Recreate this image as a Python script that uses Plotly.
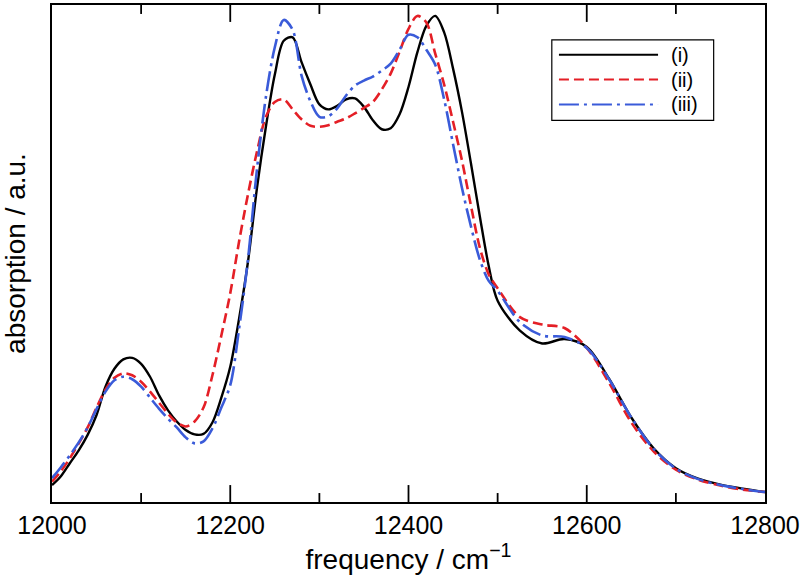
import plotly.graph_objects as go

# ---- data ----
freq = [12000, 12010, 12020, 12030, 12040, 12050, 12060, 12070, 12080, 12090,
        12100, 12110, 12120, 12130, 12140, 12150, 12160, 12170, 12180, 12190,
        12200, 12210, 12220, 12230, 12240, 12250, 12260, 12270, 12280, 12290,
        12300, 12310, 12320, 12330, 12340, 12350, 12360, 12370, 12380, 12390,
        12400, 12410, 12420, 12430, 12440, 12450, 12460, 12470, 12480, 12490,
        12500, 12525, 12550, 12575, 12600, 12625, 12650, 12675, 12700, 12725,
        12750, 12775, 12800]

abs_i = [0.034, 0.052, 0.078, 0.104, 0.135, 0.175, 0.232, 0.268, 0.287, 0.290,
         0.278, 0.252, 0.215, 0.185, 0.162, 0.145, 0.136, 0.137, 0.160, 0.210,
         0.272, 0.370, 0.485, 0.632, 0.755, 0.860, 0.928, 0.935, 0.885, 0.840,
         0.800, 0.790, 0.797, 0.810, 0.812, 0.795, 0.768, 0.750, 0.752, 0.780,
         0.835, 0.905, 0.958, 0.978, 0.945, 0.872, 0.785, 0.682, 0.575, 0.475,
         0.405, 0.345, 0.319, 0.328, 0.312, 0.248, 0.170, 0.108, 0.068, 0.047,
         0.035, 0.027, 0.020]

abs_ii = [0.041, 0.062, 0.088, 0.118, 0.150, 0.190, 0.226, 0.250, 0.259, 0.255,
          0.242, 0.222, 0.200, 0.178, 0.160, 0.152, 0.162, 0.190, 0.255, 0.335,
          0.420, 0.525, 0.620, 0.705, 0.775, 0.805, 0.810, 0.790, 0.770, 0.757,
          0.755, 0.758, 0.765, 0.772, 0.782, 0.793, 0.805, 0.830, 0.862, 0.906,
          0.952, 0.978, 0.965, 0.902, 0.840, 0.765, 0.687, 0.597, 0.512, 0.458,
          0.430, 0.372, 0.357, 0.350, 0.310, 0.240, 0.160, 0.102, 0.065, 0.045,
          0.033, 0.025, 0.020]

abs_iii = [0.048, 0.070, 0.094, 0.120, 0.150, 0.187, 0.222, 0.245, 0.252, 0.247,
           0.232, 0.210, 0.188, 0.168, 0.150, 0.130, 0.118, 0.122, 0.148, 0.190,
           0.235, 0.350, 0.490, 0.670, 0.815, 0.915, 0.970, 0.950, 0.858, 0.806,
           0.775, 0.776, 0.792, 0.818, 0.838, 0.848, 0.856, 0.868, 0.882, 0.910,
           0.940, 0.935, 0.910, 0.880, 0.810, 0.720, 0.632, 0.555, 0.488, 0.445,
           0.425, 0.362, 0.335, 0.332, 0.310, 0.247, 0.170, 0.107, 0.067, 0.046,
           0.034, 0.026, 0.020]

x_range = [12000, 12800]
major_ticks = [12000, 12200, 12400, 12600, 12800]
major_labels = ["12000", "12200", "12400", "12600", "12800"]
minor_ticks = [12100, 12300, 12500, 12700]
series_names = ["(i)", "(ii)", "(iii)"]

RED = "#e41f26"
BLUE = "#3a5bd9"
FONT = "Liberation Sans, Arial, Helvetica, sans-serif"
DASH_II = "10px,5px"
DASH_III = "20px,5px,3px,5px"

PLOT_H = 577 - 3 - 75          # plot-area height in px, to turn tick lengths into paper units
MAJOR_LEN = 17 / PLOT_H
MINOR_LEN = 9 / PLOT_H

fig = go.Figure()
fig.add_trace(go.Scatter(x=freq, y=abs_i, mode="lines", name=series_names[0],
                         line=dict(color="black", width=2.4, shape="spline", smoothing=0.9)))
fig.add_trace(go.Scatter(x=freq, y=abs_ii, mode="lines", name=series_names[1],
                         line=dict(color=RED, width=2.6, dash=DASH_II, shape="spline", smoothing=0.9)))
fig.add_trace(go.Scatter(x=freq, y=abs_iii, mode="lines", name=series_names[2],
                         line=dict(color=BLUE, width=2.6, dash=DASH_III, shape="spline", smoothing=0.9)))

shapes = []
# inward tick marks on bottom and top frame edges (x in data units, y in paper units)
for vals, ln in ((major_ticks[1:-1], MAJOR_LEN), (minor_ticks, MINOR_LEN)):
    for t in vals:
        shapes.append(dict(type="line", xref="x", yref="paper", x0=t, x1=t, y0=0, y1=ln,
                           line=dict(color="black", width=1.8), layer="above"))
        shapes.append(dict(type="line", xref="x", yref="paper", x0=t, x1=t, y0=1, y1=1 - ln,
                           line=dict(color="black", width=1.8), layer="above"))

# manual legend (box + sample lines + labels), paper coordinates
shapes.append(dict(type="rect", xref="paper", yref="paper", x0=0.701, x1=0.928, y0=0.768, y1=0.930,
                   line=dict(color="black", width=1.2), fillcolor="white", layer="above"))
leg_y = [0.900, 0.850, 0.800]
leg_style = [("black", "solid"), (RED, DASH_II), (BLUE, DASH_III)]
annotations = []
for yy, (c, d), nm in zip(leg_y, leg_style, series_names):
    shapes.append(dict(type="line", xref="paper", yref="paper", x0=0.711, x1=0.850, y0=yy, y1=yy,
                       line=dict(color=c, width=2, dash=d), layer="above"))
    annotations.append(dict(xref="paper", yref="paper", x=0.866, y=yy, text=nm, showarrow=False,
                            xanchor="left", yanchor="middle", font=dict(size=20, color="black", family=FONT)))

fig.update_layout(
    width=805, height=577,
    margin=dict(l=52, r=40, t=3, b=75),
    paper_bgcolor="white", plot_bgcolor="white",
    showlegend=False,
    font=dict(family=FONT, color="black"),
    shapes=shapes, annotations=annotations,
    xaxis=dict(
        range=x_range, tickmode="array", tickvals=major_ticks, ticktext=major_labels,
        ticks="", showline=True, linecolor="black", linewidth=2, mirror=True,
        showgrid=False, zeroline=False,
        tickfont=dict(size=25, family=FONT, color="black"),
        title=dict(text="frequency / cm<sup>−1</sup>", font=dict(size=28, family=FONT, color="black"), standoff=3),
    ),
    yaxis=dict(
        range=[0, 1], showticklabels=False, ticks="",
        showline=True, linecolor="black", linewidth=2, mirror=True,
        showgrid=False, zeroline=False,
        title=dict(text="absorption / a.u.", font=dict(size=28, family=FONT, color="black"), standoff=23),
    ),
)

fig.write_html("out.html", config={"displayModeBar": False},
               post_script="document.body.style.margin='0';document.body.style.padding='0';")
